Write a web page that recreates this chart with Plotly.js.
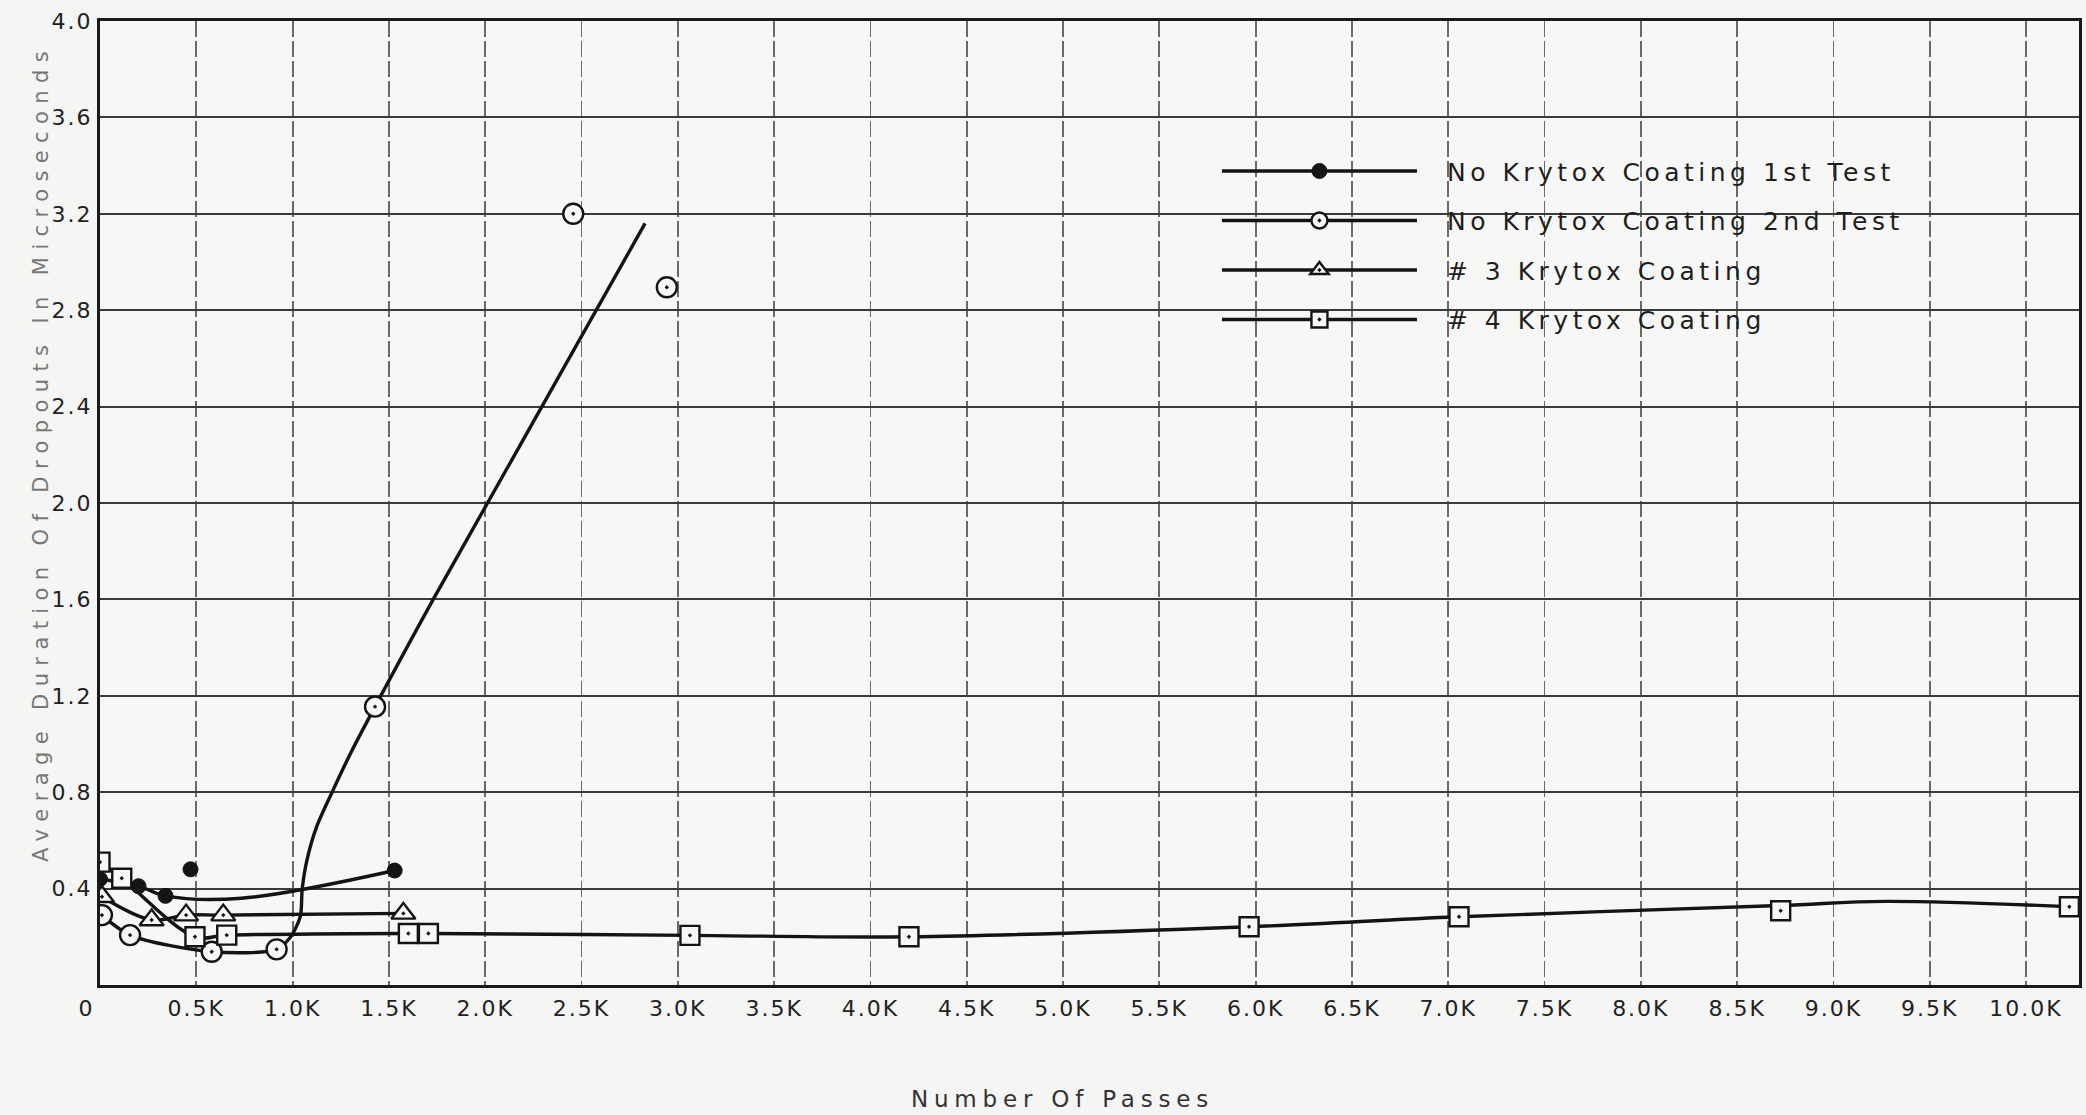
<!DOCTYPE html>
<html><head><meta charset="utf-8">
<script src="https://cdn.plot.ly/plotly-3.0.1.min.js"></script>
<style>
html,body{margin:0;padding:0;background:#f5f5f3;}
#chart{width:2086px;height:1115px;}
.xtick text, .ytick text {letter-spacing:2px;}
.legend, .legend .scrollbox {clip-path:none !important;}
.legendtext {letter-spacing:4.5px; transform:translateX(25px);}
.g-xtitle {transform:translate(-27px,5px);}
.g-xtitle text {letter-spacing:5.8px;}
.g-ytitle {transform:translate(2px,-50px);}
.g-ytitle text {letter-spacing:7.4px;}
</style></head><body><div id="chart"></div>
<script>
// ---- Data ----
const seriesNames = ["No Krytox Coating 1st Test", "No Krytox Coating 2nd Test", "# 3 Krytox Coating", "# 4 Krytox Coating"];

// Series 1: No Krytox Coating 1st Test (filled circles)
const s1MarkX = [0, 200, 340, 470, 1530];
const s1MarkY = [0.44, 0.41, 0.37, 0.48, 0.475];
const s1CurveX = [0, 200, 340, 735, 1530];
const s1CurveY = [0.44, 0.41, 0.37, 0.36, 0.475];

// Series 2: No Krytox Coating 2nd Test (open circles)
const s2MarkX = [10, 156, 580, 917, 1428, 2457, 2943];
const s2MarkY = [0.29, 0.207, 0.138, 0.148, 1.155, 3.2, 2.895];
const s2CurveX = [10, 156, 580, 917, 990, 1040, 1050, 1075, 1125, 1205, 1300, 1428, 1730, 2830];
const s2CurveY = [0.29, 0.207, 0.138, 0.148, 0.2, 0.285, 0.40, 0.52, 0.657, 0.80, 0.96, 1.155, 1.6, 3.16];

// Series 3: #3 Krytox Coating (triangles)
const s3MarkX = [10, 268, 447, 640, 1575];
const s3MarkY = [0.366, 0.27, 0.29, 0.29, 0.297];
const s3CurveX = [10, 268, 447, 640, 1575];
const s3CurveY = [0.366, 0.27, 0.29, 0.29, 0.297];

// Series 4: #4 Krytox Coating (squares)
const s4MarkX = [0, 113, 493, 658, 1601, 1705, 3063, 4200, 5966, 7056, 8726, 10225];
const s4MarkY = [0.51, 0.443, 0.2, 0.207, 0.214, 0.214, 0.206, 0.2, 0.242, 0.283, 0.308, 0.325];
const s4CurveX = [0, 113, 493, 658, 1601, 1705, 3063, 4200, 5966, 7056, 8726, 9270, 10225];
const s4CurveY = [0.51, 0.443, 0.2, 0.207, 0.214, 0.214, 0.206, 0.2, 0.242, 0.283, 0.33, 0.347, 0.325];

const xTickVals = [0,500,1000,1500,2000,2500,3000,3500,4000,4500,5000,5500,6000,6500,7000,7500,8000,8500,9000,9500,10000];
const xTickText = ["0\u00a0\u00a0\u00a0","0.5K","1.0K","1.5K","2.0K","2.5K","3.0K","3.5K","4.0K","4.5K","5.0K","5.5K","6.0K","6.5K","7.0K","7.5K","8.0K","8.5K","9.0K","9.5K","10.0K"];
const yTickVals = [0.4,0.8,1.2,1.6,2.0,2.4,2.8,3.2,3.6,4.0];
const yTickText = ["0.4","0.8","1.2","1.6","2.0","2.4","2.8","3.2","3.6","4.0"];

const xTitle = "Number Of Passes";
const yTitle = "Average Duration Of Dropouts In Microseconds";

// ---- Build traces ----
const INK = '#141414';
const BG = '#f7f7f5';
function interleave(arr){ const out=[]; arr.forEach((v,i)=>{ if(i) out.push(null); out.push(v); }); return out; }

const markerStyles = [
  {symbol:'circle', size:15, color:INK, line:{color:INK, width:1}},
  {symbol:'circle-dot', size:20, color:BG, line:{color:INK, width:2.4}},
  {symbol:'triangle-up-dot', size:21, color:BG, line:{color:INK, width:2.4}},
  {symbol:'square-dot', size:19, color:BG, line:{color:INK, width:2.4}}
];
const marks = [[s1MarkX,s1MarkY],[s2MarkX,s2MarkY],[s3MarkX,s3MarkY],[s4MarkX,s4MarkY]];
const curves = [[s1CurveX,s1CurveY],[s2CurveX,s2CurveY],[s3CurveX,s3CurveY],[s4CurveX,s4CurveY]];
const smooth = [1, 0.8, 1, 1];

const traces = [];
curves.forEach((c,i)=>{
  traces.push({type:'scatter', mode:'lines', x:c[0], y:c[1], legendgroup:'g'+i, showlegend:false,
    line:{color:INK, width:3.4, shape:'spline', smoothing:smooth[i]}, hoverinfo:'skip'});
});
marks.forEach((m,i)=>{
  traces.push({type:'scatter', mode:'lines+markers', name:seriesNames[i], legendgroup:'g'+i, showlegend:true,
    x:interleave(m[0]), y:interleave(m[1]), connectgaps:false,
    line:{color:INK, width:3.4}, marker:markerStyles[i]});
});

const layout = {
  width:2086, height:1115,
  margin:{l:100, r:7, t:21, b:130},
  paper_bgcolor:'#f5f5f3', plot_bgcolor:BG,
  font:{family:'DejaVu Sans', color:'#222'},
  showlegend:true,
  legend:{x:0.5644, y:0.868, xanchor:'left', yanchor:'top', bgcolor:'rgba(0,0,0,0)', borderwidth:0,
    font:{size:25, color:'#1e1e1e'}, itemwidth:195, traceorder:'grouped', tracegroupgap:14},
  xaxis:{range:[0,10275], tickmode:'array', tickvals:xTickVals, ticktext:xTickText,
    showgrid:true, gridcolor:'#6a6a6a', gridwidth:1.8, griddash:'16px,4px',
    showline:true, linecolor:'#1a1a1a', linewidth:3, mirror:true, zeroline:false, ticks:'',
    tickfont:{size:22, color:'#222'}, ticklabelstandoff:2,
    title:{text:xTitle, font:{size:23, color:'#333'}, standoff:66}},
  yaxis:{range:[0,4], tickmode:'array', tickvals:yTickVals, ticktext:yTickText,
    showgrid:true, gridcolor:'#3a3a3a', gridwidth:2,
    showline:true, linecolor:'#1a1a1a', linewidth:3, mirror:true, zeroline:false, ticks:'',
    tickfont:{size:22, color:'#222'},
    title:{text:yTitle, font:{size:21, color:'#777'}, standoff:0}}
};

Plotly.newPlot('chart', traces, layout, {staticPlot:true, displayModeBar:false});
</script></body></html>
